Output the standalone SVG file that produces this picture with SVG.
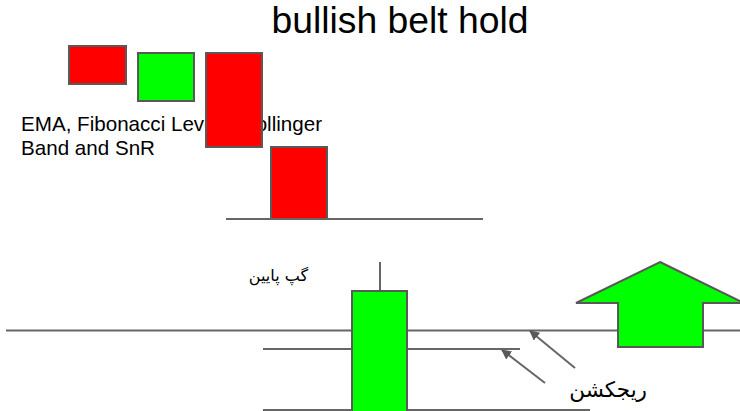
<svg xmlns="http://www.w3.org/2000/svg" width="740" height="411" viewBox="0 0 740 411">
<style>
.box{stroke:#595959;stroke-width:2}
.red{fill:#ff0000}
.green{fill:#00ff00}
.ln{stroke:#666666;stroke-width:2;fill:none}
.t{font-family:"Liberation Sans",Arial,sans-serif;fill:#000}
.fa{font-family:"DejaVu Sans","Liberation Sans",sans-serif;fill:#000}
</style>
<defs>
<marker id="ah" viewBox="0 0 10 10" refX="9" refY="5" markerWidth="5" markerHeight="5" orient="auto" markerUnits="strokeWidth">
<path d="M0,0 L10,5 L0,10 Z" fill="#595959"/>
</marker>
</defs>
<rect width="740" height="411" fill="#ffffff"/>
<g id="title"><text class="t" x="400" y="33" font-size="37.3" text-anchor="middle">bullish belt hold</text></g>
<g id="label-ema"><text class="t" font-size="20.6"><tspan x="21" y="131">EMA, Fibonacci Levels, Bollinger</tspan><tspan x="21" y="155">Band and SnR</tspan></text></g>
<g id="candle1"><rect class="box red" x="69" y="46" width="57" height="38"/></g>
<g id="candle2"><rect class="box green" x="138" y="53" width="56" height="48"/></g>
<g id="candle3"><rect class="box red" x="206" y="53" width="56" height="94"/></g>
<g id="candle4"><rect class="box red" x="271" y="147" width="56" height="72"/></g>
<g id="connectors">
<line class="ln" x1="226" y1="219" x2="483" y2="219"/>
<line class="ln" x1="6" y1="330.5" x2="740" y2="330.5"/>
<line class="ln" x1="263" y1="349" x2="520" y2="349"/>
<line class="ln" x1="263" y1="410" x2="590" y2="410"/>
<line class="ln" x1="380" y1="262" x2="380" y2="291"/>
<line class="ln" x1="575" y1="368" x2="530" y2="331" stroke="#595959" marker-end="url(#ah)"/>
<line class="ln" x1="545" y1="383" x2="502" y2="350" stroke="#595959" marker-end="url(#ah)"/>
</g>
<g id="candle5"><rect class="box green" x="352" y="291" width="55" height="125"/></g>
<g id="up-arrow"><path class="box green" d="M660,262 L744,303 L703,303 L703,347 L618,347 L618,303 L576,303 Z"/></g>
<g id="label-gap"><text class="fa" x="308" y="281" font-size="16" text-anchor="end">گپ پایین</text></g>
<g id="label-rejection"><text class="fa" x="647" y="397" font-size="21.5" text-anchor="end">ریجکشن</text></g>
</svg>
